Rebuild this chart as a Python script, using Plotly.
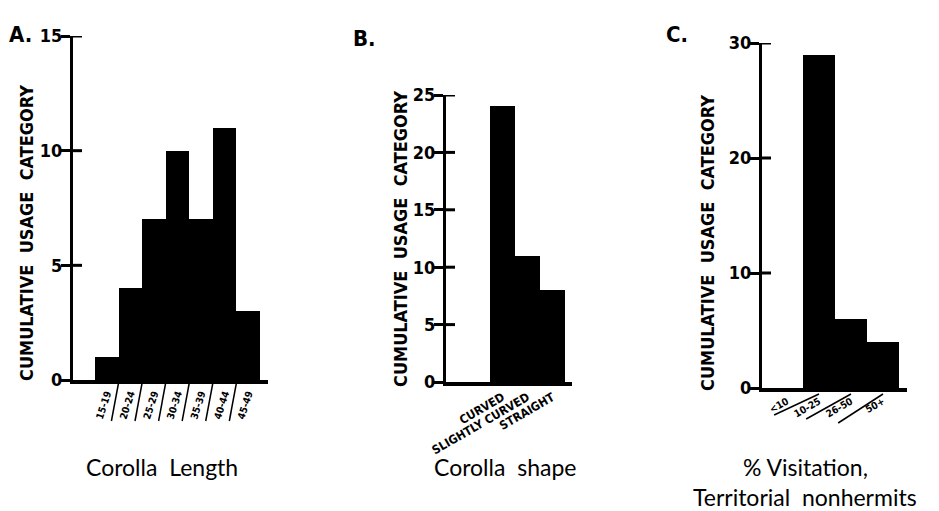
import plotly.graph_objects as go

# ---------------- data ----------------
len_cats = ["15-19", "20-24", "25-29", "30-34", "35-39", "40-44", "45-49"]
len_vals = [1, 4, 7, 10, 7, 11, 3]

shape_cats = ["CURVED", "SLIGHTLY CURVED", "STRAIGHT"]
shape_vals = [24, 11, 8]

visit_cats = ["<10", "10-25", "26-50", "50+"]
visit_vals = [0, 29, 6, 4]

yticks_a = [0, 5, 10, 15]
yticks_b = [0, 5, 10, 15, 20, 25]
yticks_c = [0, 10, 20, 30]

# ---------------- styling ----------------
W, H = 939, 511
NUMFONT = "DejaVu Sans Condensed, Liberation Sans Narrow, DejaVu Sans, sans-serif"
TITLEFONT = "Lato, Noto Sans, sans-serif"

def px(x):
    return x / W

def py(y):
    return (H - y) / H

panels = [
    dict(cats=len_cats, vals=len_vals, yt=yticks_a, xdom=[px(73), px(268)], ydom=[py(380), py(36)],
         xr=[-1.43, 6.84], yr=[0, 15], angle=-72, tsize=10),
    dict(cats=shape_cats, vals=shape_vals, yt=yticks_b, xdom=[px(446), px(572)], ydom=[py(382), py(95)],
         xr=[-2.26, 2.78], yr=[0, 25], angle=-30, tsize=12),
    dict(cats=visit_cats, vals=visit_vals, yt=yticks_c, xdom=[px(762), px(907)], ydom=[py(388), py(43)],
         xr=[-0.78, 3.75], yr=[0, 30], angle=-30, tsize=10),
]

fig = go.Figure()
layout = dict(width=W, height=H, margin=dict(l=0, r=0, t=0, b=0, autoexpand=False),
              plot_bgcolor="white", paper_bgcolor="white", showlegend=False, bargap=0)
shapes = []

for i, p in enumerate(panels):
    n = i + 1
    xa = "x" if n == 1 else f"x{n}"
    ya = "y" if n == 1 else f"y{n}"
    xpos = list(range(len(p["cats"])))
    fig.add_trace(go.Bar(x=xpos, y=p["vals"], width=1, marker=dict(color="black", line=dict(width=0)),
                         xaxis=xa, yaxis=ya, hoverinfo="skip"))
    layout[f"xaxis{'' if n == 1 else n}"] = dict(
        domain=p["xdom"], range=p["xr"], anchor=ya, showline=True, linewidth=4, linecolor="black",
        showgrid=False, zeroline=False, ticks="", tickmode="array", tickvals=xpos, ticktext=p["cats"],
        tickangle=p["angle"], tickfont=dict(family=NUMFONT, size=p["tsize"], color="black", weight="bold"),
        automargin=False, fixedrange=True)
    layout[f"yaxis{'' if n == 1 else n}"] = dict(
        domain=p["ydom"], range=p["yr"], anchor=xa, showline=True, linewidth=3, linecolor="black",
        showgrid=False, zeroline=False, ticks="outside", ticklen=9, tickwidth=3, tickcolor="black",
        tickmode="array", tickvals=p["yt"], ticktext=[str(v) for v in p["yt"]],
        ticklabelstandoff=-5,
        tickfont=dict(family=NUMFONT, size=18, color="black", weight="bold"),
        automargin=False, fixedrange=True)
    # inner half of the crossing ticks
    for v in p["yt"][1:]:
        shapes.append(dict(type="line", xref=f"{xa} domain", yref=ya, xsizemode="pixel", xanchor=0,
                           x0=0, x1=9, y0=v, y1=v, line=dict(color="black", width=3)))

# separators between corolla-length labels
for k in range(len(len_cats) - 1):
    b = k + 0.5
    shapes.append(dict(type="line", xref="x", yref="paper", x0=b, x1=b - 0.3,
                       y0=py(383), y1=py(421), line=dict(color="black", width=1.5)))
# underlines in visitation labels
for k in range(len(visit_cats) - 1):
    shapes.append(dict(type="line", xref="x3", yref="paper", x0=k - 0.4, x1=k + 1.0,
                       y0=py(415 + 4 * k), y1=py(394), line=dict(color="black", width=1.5)))
layout["shapes"] = shapes

ann = []
ytitle = "CUMULATIVE  USAGE  CATEGORY"
for xc, yc in [(26, 233), (400, 239), (707, 243)]:
    ann.append(dict(text=ytitle, x=px(xc), y=py(yc), xref="paper", yref="paper", textangle=-90,
                    showarrow=False, font=dict(family=NUMFONT, size=18, color="black", weight="bold"),
                    xanchor="center", yanchor="middle"))
for t, xc, yc in [("A.", 20, 34), ("B.", 364, 38), ("C.", 677, 34)]:
    ann.append(dict(text=t, x=px(xc), y=py(yc), xref="paper", yref="paper", showarrow=False,
                    font=dict(family=NUMFONT, size=22, color="black", weight="bold"),
                    xanchor="center", yanchor="middle"))
for t, xc, yc in [("Corolla  Length", 162, 467), ("Corolla  shape", 505, 467),
                  ("% Visitation,", 805, 467), ("Territorial  nonhermits", 805, 497)]:
    ann.append(dict(text=t, x=px(xc), y=py(yc), xref="paper", yref="paper", showarrow=False,
                    font=dict(family=TITLEFONT, size=23, color="black"),
                    xanchor="center", yanchor="middle"))
layout["annotations"] = ann

fig.update_layout(**layout)
fig.write_html("out.html")
